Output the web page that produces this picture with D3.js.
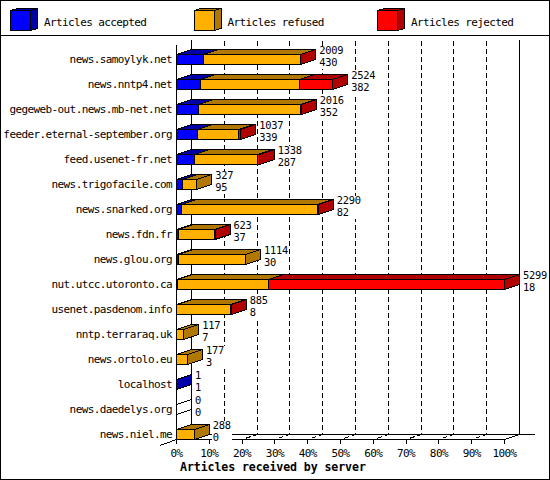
<!DOCTYPE html>
<html>
<head>
<meta charset="utf-8">
<script src="https://cdn.jsdelivr.net/npm/d3@7"></script>
<style>
body { margin: 0; background: #fff; }
text { font-family: "DejaVu Sans Mono", monospace; font-size: 11px; letter-spacing: -0.6px; fill: #000; }
text.val { font-size: 10.4px; letter-spacing: -0.25px; }
.title { font-weight: bold; font-size: 11.6px; letter-spacing: -0.1px; }
</style>
</head>
<body>
<script>
// servers, top to bottom
var servers = ["news.samoylyk.net", "news.nntp4.net", "gegeweb-out.news.mb-net.net",
  "feeder.eternal-september.org", "feed.usenet-fr.net", "news.trigofacile.com",
  "news.snarked.org", "news.fdn.fr", "news.glou.org", "nut.utcc.utoronto.ca",
  "usenet.pasdenom.info", "nntp.terraraq.uk", "news.ortolo.eu", "localhost",
  "news.daedelys.org", "news.niel.me"];
var accepted = [430, 382, 352, 339, 287, 95, 82, 37, 30, 18, 8, 7, 3, 1, 0, 0];
var refused  = [1575, 1601, 1654, 664, 1017, 232, 2199, 581, 1084, 1470, 872, 110, 174, 0, 0, 288];
var rejected = [4, 541, 10, 34, 34, 0, 9, 5, 0, 3811, 5, 0, 0, 0, 0, 0];

var seriesNames = ["Articles accepted", "Articles refused", "Articles rejected"];
var colors = ["#0000ff", "#ffb000", "#ff0000"];
var shades = ["#0000a8", "#b07800", "#b00000"];
var pctTicks = [0, 10, 20, 30, 40, 50, 60, 70, 80, 90, 100];

var w = 550, h = 480;
var dx = 15, dy = -5;   // 3D depth

var svg = d3.select("body").append("svg")
  .attr("width", w).attr("height", h)
  .style("shape-rendering", "crispEdges");

var series = [accepted, refused, rejected];
var totals = servers.map(function(s, i) { return accepted[i] + refused[i] + rejected[i]; });

var x = d3.scaleLinear().domain([0, d3.max(totals)]).range([176.5, 504.5]);
var pct = d3.scaleLinear().domain([0, 100]).range(x.range());
var y = d3.scaleBand().domain(servers).range([47, 447]);

var x0 = x(0), xr = x.range()[1];
var floorY = 439.5, topY = 39.5;

// frame
svg.append("rect").attr("x", 0.5).attr("y", 0.5).attr("width", w - 1).attr("height", h - 1)
  .attr("fill", "none").attr("stroke", "#000");
svg.append("line").attr("x1", 0).attr("x2", w).attr("y1", 35.5).attr("y2", 35.5).attr("stroke", "#000");

// legend
var leg = svg.append("g").selectAll("g").data(seriesNames).enter().append("g")
  .attr("transform", function(d, i) { return "translate(" + (10 + i * 183.5) + ",0)"; });
leg.append("rect").attr("x", 0.5).attr("y", 10.5).attr("width", 20).attr("height", 20)
  .attr("fill", function(d, i) { return colors[i]; }).attr("stroke", "#000");
leg.append("polygon").attr("points", "0.5,10.5 20.5,10.5 27.5,8.5 7.5,8.5")
  .attr("fill", function(d, i) { return shades[i]; }).attr("stroke", "#000");
leg.append("polygon").attr("points", "20.5,10.5 27.5,8.5 27.5,28.5 20.5,30.5")
  .attr("fill", function(d, i) { return shades[i]; }).attr("stroke", "#000");
leg.append("text").attr("x", 34).attr("y", 25.5).text(function(d) { return d; });

// grid on the back wall and floor
var grid = svg.append("g");
grid.selectAll("path").data(pctTicks.slice(1, -1)).enter().append("path")
  .attr("d", function(p) {
    var gx = pct(p);
    return "M" + gx + "," + (floorY + 4) + "L" + gx + "," + floorY + "L" + (gx + dx) + "," + (floorY + dy) + "L" + (gx + dx) + "," + topY;
  })
  .attr("fill", "none").attr("stroke", "#000").attr("stroke-dasharray", "5,3");

// walls
var walls = svg.append("g").attr("fill", "none").attr("stroke", "#000");
walls.append("line").attr("x1", x0 + dx).attr("x2", x0 + dx).attr("y1", topY).attr("y2", floorY + dy);
walls.append("line").attr("x1", xr + dx).attr("x2", xr + dx).attr("y1", topY).attr("y2", floorY + dy);
walls.append("line").attr("x1", x0 + dx).attr("x2", 535).attr("y1", floorY + dy).attr("y2", floorY + dy);
walls.append("path").attr("d", "M160," + (floorY + 6) + "L" + x0 + "," + floorY + "H" + xr + "L" + (xr + dx) + "," + (floorY + dy));
walls.append("line").attr("x1", x0).attr("x2", x0).attr("y1", 44.5).attr("y2", floorY);

// x axis ticks and labels
var axis = d3.axisBottom(pct).tickValues(pctTicks)
  .tickFormat(function(d) { return d + "%"; })
  .tickSize(4).tickSizeOuter(0).offset(0);
var ax = svg.append("g").attr("transform", "translate(0," + floorY + ")").call(axis);
ax.select(".domain").remove();
ax.selectAll("line").attr("stroke", "#000");
ax.selectAll("text").attr("y", 17.5).attr("dy", null)
  .style("font-family", "DejaVu Sans Mono, monospace").style("font-size", "11px").attr("fill", "#000");
ax.attr("font-family", null).attr("font-size", null);

svg.append("text").attr("class", "title").attr("x", 180).attr("y", 471)
  .text("Articles received by server");

// server labels
svg.append("g").selectAll("text").data(servers).enter().append("text")
  .attr("x", 172).attr("y", function(d) { return y(d) + y.bandwidth() / 2 + 3.5; })
  .attr("text-anchor", "end").text(function(d) { return d; });

// bars
var rows = servers.map(function(s, i) {
  var cy = y(s) + y.bandwidth() / 2;
  var cum = 0, segs = [], last = -1;
  series.forEach(function(arr, k) {
    var v = arr[i];
    if (v > 0) { segs.push({ k: k, a: cum, b: cum + v }); last = k; }
    cum += v;
  });
  return { name: s, top: cy - 5, bot: cy + 5, cy: cy, segs: segs, last: last, total: cum, acc: accepted[i] };
});

var bar = svg.append("g").selectAll("g").data(rows).enter().append("g");

bar.selectAll("rect").data(function(r) { return r.segs.map(function(s) { s.r = r; return s; }); })
  .enter().append("rect")
  .attr("x", function(s) { return x(s.a); })
  .attr("y", function(s) { return s.r.top; })
  .attr("width", function(s) { return x(s.b) - x(s.a); })
  .attr("height", function(s) { return s.r.bot - s.r.top; })
  .attr("fill", function(s) { return colors[s.k]; }).attr("stroke", "#000");

bar.selectAll("polygon.topface").data(function(r) { return r.segs; })
  .enter().append("polygon").attr("class", "topface")
  .attr("points", function(s) {
    var a = x(s.a), b = x(s.b), t = s.r.top;
    return [[a, t], [b, t], [b + dx, t + dy], [a + dx, t + dy]].join(" ");
  })
  .attr("fill", function(s) { return shades[s.k]; }).attr("stroke", "#000");

bar.append("polygon")
  .attr("points", function(r) {
    var e = x(r.total);
    return [[e, r.top], [e + dx, r.top + dy], [e + dx, r.bot + dy], [e, r.bot]].join(" ");
  })
  .attr("fill", function(r) { return r.last < 0 ? "#fff" : shades[r.last]; })
  .attr("stroke", "#000");

// value labels (total, accepted)
var lab = svg.append("g").selectAll("g").data(rows).enter().append("g")
  .attr("transform", function(r) { return "translate(" + (x(r.total) + dx + 3.5) + "," + r.cy + ")"; });
lab.append("rect").attr("x", -1).attr("y", -14)
  .attr("width", function(r) { return String(Math.max(r.total, r.acc)).length * 6 + 2; })
  .attr("height", 23).attr("fill", "#fff");
lab.append("text").attr("class", "val").attr("y", -5.5).text(function(r) { return r.total; });
lab.append("text").attr("class", "val").attr("y", 6.5).text(function(r) { return r.acc; });
</script>
</body>
</html>
